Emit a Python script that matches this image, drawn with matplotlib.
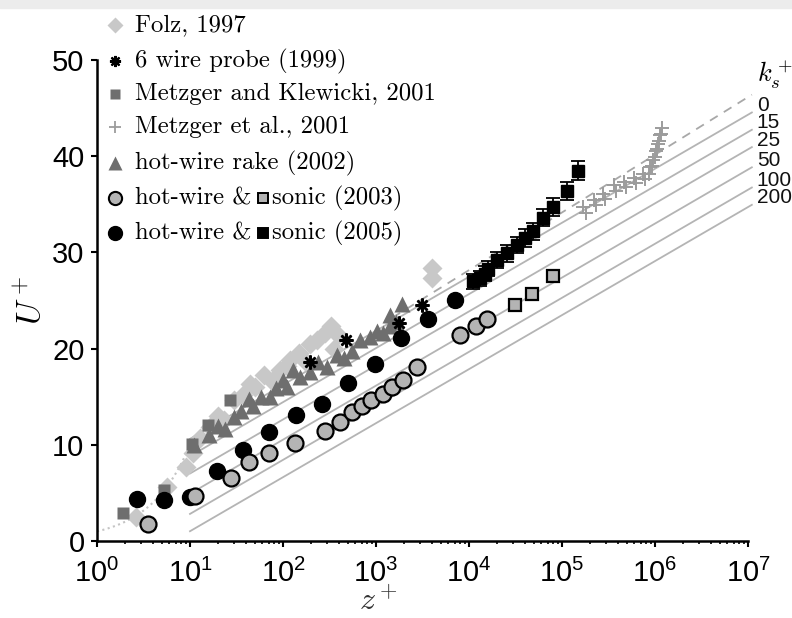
import numpy as np
import matplotlib
matplotlib.use('Agg')
import matplotlib.pyplot as plt
from matplotlib.ticker import LogLocator, FuncFormatter, NullFormatter, FixedLocator
from matplotlib.patches import Rectangle

# ---------------- data ----------------
folz_z = [2.6, 5.6, 9.1, 10.7, 12.9, 16.6, 20, 23, 30, 37, 44, 50, 63, 76, 93, 110, 120,
          150, 174, 195, 230, 280, 330, 355, 390, 3980, 3980]
folz_u = [2.5, 5.6, 7.7, 9.1, 10.7, 11.9, 13.0, 12.6, 14.7, 15.2, 16.3, 16.0, 17.3, 16.6,
          17.8, 18.2, 18.8, 19.5, 18.7, 20.5, 20.9, 21.6, 22.3, 20.0, 21.4, 27.3, 28.4]

wire6_z = [195, 470, 1780, 3100]
wire6_u = [18.6, 20.9, 22.7, 24.5]

mk_z = [1.9, 5.2, 10.5, 15.5, 27]
mk_u = [2.9, 5.3, 10.1, 12.1, 14.7]

met_z = [1.7e5, 1.8e5, 2.2e5, 2.3e5, 2.75e5, 2.9e5, 3.6e5, 3.8e5, 4.6e5, 4.9e5, 5.9e5, 6.2e5,
         7.5e5, 7.8e5, 8.9e5, 8.6e5, 9.6e5, 9.3e5, 1.02e6, 1.0e6, 1.09e6, 1.06e6, 1.13e6,
         1.1e6, 1.18e6, 1.15e6]
met_u = [34.7, 34.1, 35.4, 34.9, 36.1, 35.6, 37.0, 36.4, 37.3, 36.8, 37.7, 37.2, 38.2, 37.6,
         38.9, 38.2, 39.6, 39.0, 40.5, 39.9, 41.3, 40.7, 42.2, 41.6, 42.9, 42.3]

rake_z = [11, 16, 20, 23.5, 29.5, 35.5, 43, 48, 58, 72, 85, 100, 110, 129, 151, 195, 240,
          295, 380, 457, 550, 676, 870, 1020, 1200, 1410, 1410, 1660, 1900]
rake_u = [10.0, 11.0, 12.0, 11.6, 12.9, 13.5, 14.8, 14.0, 15.0, 15.0, 15.9, 16.7, 16.0, 17.8,
          17.0, 17.6, 18.6, 18.1, 19.3, 19.0, 19.7, 20.9, 21.2, 21.8, 21.6, 22.3, 23.5, 22.8, 24.6]

hw03_z = [3.5, 11.2, 27.5, 42.7, 70.8, 135, 282, 407, 550, 708, 891, 1175, 1480, 1950, 2750,
          7940, 12000, 15800]
hw03_u = [1.77, 4.7, 6.6, 8.2, 9.1, 10.2, 11.4, 12.4, 13.4, 14.0, 14.7, 15.3, 16.0, 16.7,
          18.1, 21.4, 22.3, 23.1]

son03_z = [30900, 47900, 79400]
son03_u = [24.5, 25.7, 27.5]

hw05_z = [2.7, 5.2, 10.0, 19.5, 37.2, 70.8, 138, 263, 501, 977, 1860, 3630, 7080]
hw05_u = [4.37, 4.26, 4.6, 7.3, 9.5, 11.3, 13.1, 14.2, 16.4, 18.4, 21.1, 23.1, 25.1]

son05_z = [11100, 13100, 14900, 16100, 19900, 25400, 32600, 40000, 49100, 63000, 80500,
           112000, 150000]
son05_u = [27.0, 27.3, 27.8, 28.3, 29.2, 29.9, 30.8, 31.5, 32.2, 33.6, 34.7, 36.4, 38.5]
son05_err = [0.8, 0.8, 0.8, 0.8, 0.85, 0.85, 0.85, 0.9, 0.9, 0.9, 0.95, 0.95, 1.0]

ks_labels = ['0', '15', '25', '50', '100', '200']
ks_dB = [0.0, 1.8, 3.6, 5.7, 7.8, 9.6]
kappa, B = 0.41, 5.0          # rough-wall log law lines
kappa_s, B_s = 0.384, 4.17    # dashed smooth-wall log law

x_ticks = [1, 10, 100, 1e3, 1e4, 1e5, 1e6, 1e7]
y_ticks = [0, 10, 20, 30, 40, 50]

legend_labels = ['Folz, 1997', '6 wire probe (1999)', 'Metzger and Klewicki, 2001',
                 'Metzger et al., 2001', 'hot-wire rake (2002)']

# ---------------- figure ----------------
plt.rcParams['font.family'] = ['Liberation Sans', 'DejaVu Sans']
plt.rcParams['mathtext.fontset'] = 'custom'
plt.rcParams['mathtext.rm'] = 'Liberation Sans'
plt.rcParams['mathtext.it'] = 'Liberation Sans:italic'
plt.rcParams['axes.unicode_minus'] = False

W, H = 792, 618
fig = plt.figure(figsize=(W / 100, H / 100), dpi=100)
fig.patches.append(Rectangle((0, (H - 8) / H), 1, 8 / H, transform=fig.transFigure,
                             color='#ececec', zorder=-10))

ax = fig.add_axes([97 / W, (H - 541) / H, 651 / W, 481 / H])
ax.set_xscale('log')
ax.set_xlim(1, 1e7)
ax.set_ylim(0, 50)

# reference lines
zline = np.logspace(1, np.log10(1.1e7), 300)
for lab, dB in zip(ks_labels, ks_dB):
    u = np.log(zline) / kappa + B - dB
    ax.plot(zline, u, color='#b4b4b4', lw=1.3, clip_on=False, zorder=1)
    ax.annotate(lab, xy=(zline[-1], u[-1]), xytext=(3.5, 5), textcoords='offset points',
                ha='left', va='center', fontsize=15, annotation_clip=False, color='#111111')
zs = np.logspace(np.log10(1500), np.log10(1.1e7), 200)
ax.plot(zs, np.log(zs) / kappa_s + B_s, color='#a8a8a8', lw=1.3, ls=(0, (5, 4)),
        clip_on=False, zorder=1)
zv = np.logspace(0, np.log10(11), 50)
ax.plot(zv, zv, color='#c4c4c4', lw=1.5, ls=':', zorder=1)

# data
ax.plot(folz_z, folz_u, ls='none', marker='D', ms=10, color='#c8c8c8', mec='none', zorder=3)
ax.plot(met_z, met_u, ls='none', marker='+', ms=10, mew=1.4, color='#9c9c9c', zorder=3)
ax.plot(rake_z, rake_u, ls='none', marker='^', ms=11, color='#6e6e6e', mec='none', zorder=4)
ax.plot(mk_z, mk_u, ls='none', marker='s', ms=9, color='#6e6e6e', mec='none', zorder=4)
ax.plot(hw05_z, hw05_u, ls='none', marker='o', ms=11.5, color='black', zorder=5)
ax.plot(hw03_z, hw03_u, ls='none', marker='o', ms=11.5, color='#b4b4b4', mec='black',
        mew=1.6, zorder=5)
ax.plot(son03_z, son03_u, ls='none', marker='s', ms=9, color='#b4b4b4', mec='black',
        mew=1.6, zorder=5)
ax.errorbar(son05_z, son05_u, yerr=son05_err, fmt='s', ms=9, color='black', ecolor='black',
            elinewidth=1.3, capsize=5, capthick=1.3, zorder=5)
ax.plot(wire6_z, wire6_u, ls='none', marker=(8, 2, 0), ms=10, mew=1.8, color='black', zorder=6)

# axes styling
for s in ['top', 'right']:
    ax.spines[s].set_visible(False)
for s in ['left', 'bottom']:
    ax.spines[s].set_linewidth(1.8)
ax.yaxis.set_major_locator(FixedLocator(y_ticks))
ax.xaxis.set_major_locator(FixedLocator(x_ticks))
ax.xaxis.set_minor_locator(LogLocator(base=10, subs=np.arange(2, 10), numticks=100))
ax.xaxis.set_minor_formatter(NullFormatter())
ax.xaxis.set_major_formatter(FuncFormatter(lambda v, p: r'$\mathrm{10^{%d}}$' % round(np.log10(v))))
ax.tick_params(axis='both', which='major', labelsize=21, width=1.5, length=4, direction='out')
ax.tick_params(axis='x', which='minor', width=1.2, length=2.5, direction='out')
ax.tick_params(axis='y', pad=5)
ax.tick_params(axis='x', pad=9)

fig.text(32 / W, 1 - 300 / H, r'$U^+$', rotation=90, ha='center', va='center', fontsize=24,
         math_fontfamily='cm')
fig.text(378 / W, 1 - 610 / H, r'$z^+$', ha='center', va='baseline', fontsize=23,
         math_fontfamily='cm', color='#333333')
fig.text(757 / W, 1 - 75 / H, r'$k_s^+$', ha='left', va='center', fontsize=19,
         math_fontfamily='cm')

# manual legend
def fp(x, y):
    return (x / W, 1 - y / H)

ly = [25, 61, 94, 127, 163, 198, 233]
mx, tx = 115, 135
lstyle = [dict(marker='D', ms=8, color='#c8c8c8', mec='none'),
          dict(marker=(8, 2, 0), ms=8, mew=1.6, color='black'),
          dict(marker='s', ms=7, color='#6e6e6e', mec='none'),
          dict(marker='+', ms=9, mew=1.3, color='#9c9c9c'),
          dict(marker='^', ms=10, color='#6e6e6e', mec='none')]
lfont = dict(family=['cmr10', 'DejaVu Serif'], fontsize=17.8)
for y, lab, st in zip(ly[:5], legend_labels, lstyle):
    fig.add_artist(plt.Line2D([mx / W], [1 - y / H], ls='none', transform=fig.transFigure, **st))
    fig.text(*fp(tx, y), lab, ha='left', va='center', **lfont)

t03 = fig.text(*fp(tx, ly[5]), 'hot-wire &', ha='left', va='center', **lfont)
t05 = fig.text(*fp(tx, ly[6]), 'hot-wire &', ha='left', va='center', **lfont)
fig.add_artist(plt.Line2D([mx / W], [1 - ly[5] / H], ls='none', marker='o', ms=9.5,
                          color='#b4b4b4', mec='black', mew=1.5, transform=fig.transFigure))
fig.add_artist(plt.Line2D([mx / W], [1 - ly[6] / H], ls='none', marker='o', ms=10,
                          color='black', transform=fig.transFigure))
fig.canvas.draw()
r = fig.canvas.get_renderer()
for t, y, fc, yr in [(t03, ly[5], '#b4b4b4', '(2003)'), (t05, ly[6], 'black', '(2005)')]:
    x1 = t.get_window_extent(r).x1
    sx = x1 + 11
    fig.add_artist(plt.Line2D([sx / W], [1 - y / H], ls='none', marker='s', ms=7.5,
                              color=fc, mec='black', mew=1.4, transform=fig.transFigure))
    fig.text(*fp(sx + 10, y), 'sonic ' + yr, ha='left', va='center', **lfont)

fig.savefig('out.png', dpi=100)
